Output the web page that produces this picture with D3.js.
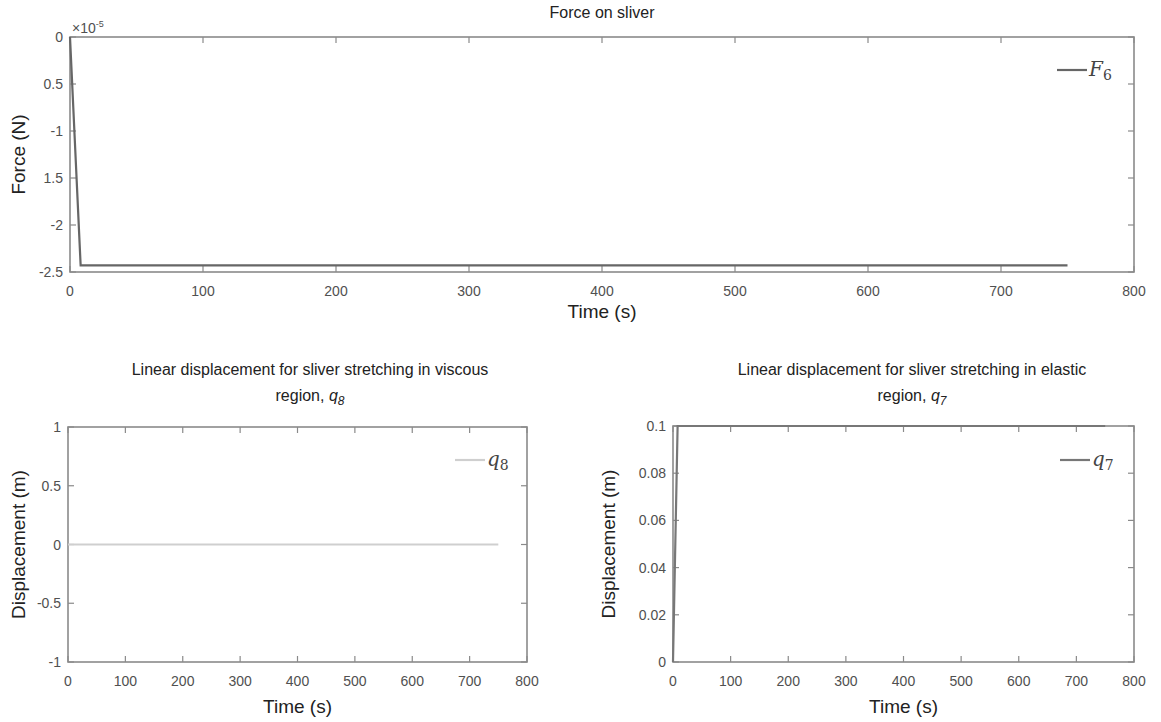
<!DOCTYPE html>
<html>
<head>
    <script src="https://d3js.org/d3.v7.min.js"></script>
    <style>
        body { margin: 0; background: #fff; font-family: "Liberation Sans", Arial, sans-serif; }
        svg { display: block; }
        .frame { fill: none; stroke: #8a8a8a; stroke-width: 1.6px; }
        .tick-label { font-size: 14px; fill: #505050; }
        .title { font-size: 16px; fill: #222; }
        .axis-label { font-size: 19px; fill: #222; }
        .legend { font-family: "DejaVu Serif", "Liberation Serif", serif; font-style: italic; font-size: 20px; fill: #444; }
    </style>
</head>
<body>
    <svg width="1161" height="722"></svg>
    <script>
        // Force on sliver, F6 (units of 1e-5 N)
        let forceTime = [0, 8, 750];
        let forceValue = [0, -2.43, -2.43];
        let forceTicks = [0, -0.5, -1, -1.5, -2, -2.5];
        let forceTickLabels = ["0", "0.5", "-1", "1.5", "-2", "-2.5"];

        // q8, viscous region
        let q8Time = [0, 750];
        let q8Value = [0, 0];
        let q8Ticks = [1, 0.5, 0, -0.5, -1];
        let q8TickLabels = ["1", "0.5", "0", "-0.5", "-1"];

        // q7, elastic region
        let q7Time = [0, 8, 750];
        let q7Value = [0, 0.1, 0.1];
        let q7Ticks = [0.1, 0.08, 0.06, 0.04, 0.02, 0];
        let q7TickLabels = ["0.1", "0.08", "0.06", "0.04", "0.02", "0"];

        let timeTicks = [0, 100, 200, 300, 400, 500, 600, 700, 800];

        let svg = d3.select("svg");

        function panel(cfg) {
            let x = d3.scaleLinear().domain([0, 800]).range([cfg.left, cfg.right]);
            let y = d3.scaleLinear().domain(cfg.yDomain).range([cfg.bottom, cfg.top]);
            let g = svg.append("g");

            // ticks on all four sides, pointing in
            let tl = 6;
            timeTicks.forEach(t => {
                g.append("line").attr("x1", x(t)).attr("x2", x(t)).attr("y1", cfg.bottom).attr("y2", cfg.bottom - tl)
                    .attr("stroke", "#8a8a8a").attr("stroke-width", 1.2);
                g.append("line").attr("x1", x(t)).attr("x2", x(t)).attr("y1", cfg.top).attr("y2", cfg.top + tl)
                    .attr("stroke", "#8a8a8a").attr("stroke-width", 1.2);
                g.append("text").attr("class", "tick-label").attr("x", x(t)).attr("y", cfg.bottom + 24)
                    .attr("text-anchor", "middle").text(t);
            });
            cfg.yTicks.forEach((v, i) => {
                g.append("line").attr("x1", cfg.left).attr("x2", cfg.left + tl).attr("y1", y(v)).attr("y2", y(v))
                    .attr("stroke", "#8a8a8a").attr("stroke-width", 1.2);
                g.append("line").attr("x1", cfg.right).attr("x2", cfg.right - tl).attr("y1", y(v)).attr("y2", y(v))
                    .attr("stroke", "#8a8a8a").attr("stroke-width", 1.2);
                g.append("text").attr("class", "tick-label").attr("x", cfg.left - 7).attr("y", y(v) + 5)
                    .attr("text-anchor", "end").text(cfg.yTickLabels[i]);
            });

            g.append("rect").attr("class", "frame")
                .attr("x", cfg.left).attr("y", cfg.top)
                .attr("width", cfg.right - cfg.left).attr("height", cfg.bottom - cfg.top);

            // data line
            let pts = cfg.time.map((t, i) => [t, cfg.value[i]]);
            g.append("path").datum(pts)
                .attr("fill", "none").attr("stroke", cfg.color).attr("stroke-width", 2.2)
                .attr("d", d3.line().x(d => x(d[0])).y(d => y(d[1])));

            // legend
            g.append("line").attr("x1", cfg.legX).attr("x2", cfg.legX + 30).attr("y1", cfg.legY).attr("y2", cfg.legY)
                .attr("stroke", cfg.color).attr("stroke-width", 2.2);
            let lt = g.append("text").attr("class", "legend").attr("x", cfg.legX + 32).attr("y", cfg.legY + 6);
            lt.append("tspan").text(cfg.legName);
            lt.append("tspan").attr("font-size", 14).attr("font-style", "normal").attr("dy", 4).text(cfg.legSub);

            // axis labels
            g.append("text").attr("class", "axis-label").attr("x", (cfg.left + cfg.right) / 2).attr("y", cfg.xlabY)
                .attr("text-anchor", "middle").text("Time (s)");
            g.append("text").attr("class", "axis-label")
                .attr("transform", `translate(${cfg.ylabX},${(cfg.top + cfg.bottom) / 2}) rotate(-90)`)
                .attr("text-anchor", "middle").text(cfg.yLabel);
            return { x: x, y: y, g: g };
        }

        // top panel
        panel({
            left: 70, right: 1134, top: 37, bottom: 272, yDomain: [-2.5, 0],
            yTicks: forceTicks, yTickLabels: forceTickLabels,
            time: forceTime, value: forceValue, color: "#666666",
            legX: 1057, legY: 70, legName: "F", legSub: "6",
            yLabel: "Force (N)", ylabX: 25, xlabY: 318
        });
        svg.append("text").attr("class", "title").attr("x", 602).attr("y", 18)
            .attr("font-size", 17).attr("text-anchor", "middle").text("Force on sliver");
        let expLabel = svg.append("text").attr("class", "tick-label").attr("x", 72).attr("y", 33).attr("font-size", 13);
        expLabel.append("tspan").text("\u00d710");
        expLabel.append("tspan").attr("dy", -6).attr("font-size", 9).text("-5");

        // bottom-left panel
        panel({
            left: 68, right: 527, top: 427, bottom: 662, yDomain: [-1, 1],
            yTicks: q8Ticks, yTickLabels: q8TickLabels,
            time: q8Time, value: q8Value, color: "#cfcfcf",
            legX: 455, legY: 460, legName: "q", legSub: "8",
            yLabel: "Displacement (m)", ylabX: 25, xlabY: 713
        });

        // bottom-right panel
        panel({
            left: 673, right: 1134, top: 426, bottom: 662, yDomain: [0, 0.1],
            yTicks: q7Ticks, yTickLabels: q7TickLabels,
            time: q7Time, value: q7Value, color: "#777777",
            legX: 1060, legY: 460, legName: "q", legSub: "7",
            yLabel: "Displacement (m)", ylabX: 615, xlabY: 713
        });

        function twoLineTitle(cx, line1, sub) {
            svg.append("text").attr("class", "title").attr("x", cx).attr("y", 375)
                .attr("text-anchor", "middle").text(line1);
            let t = svg.append("text").attr("class", "title").attr("x", cx).attr("y", 401)
                .attr("text-anchor", "middle");
            t.append("tspan").text("region, ");
            t.append("tspan").attr("font-style", "italic").text("q");
            t.append("tspan").attr("font-style", "italic").attr("font-size", 12).attr("dy", 4).text(sub);
        }
        twoLineTitle(310, "Linear displacement for sliver stretching in viscous", "8");
        twoLineTitle(912, "Linear displacement for sliver stretching in elastic", "7");
    </script>
</body>
</html>
